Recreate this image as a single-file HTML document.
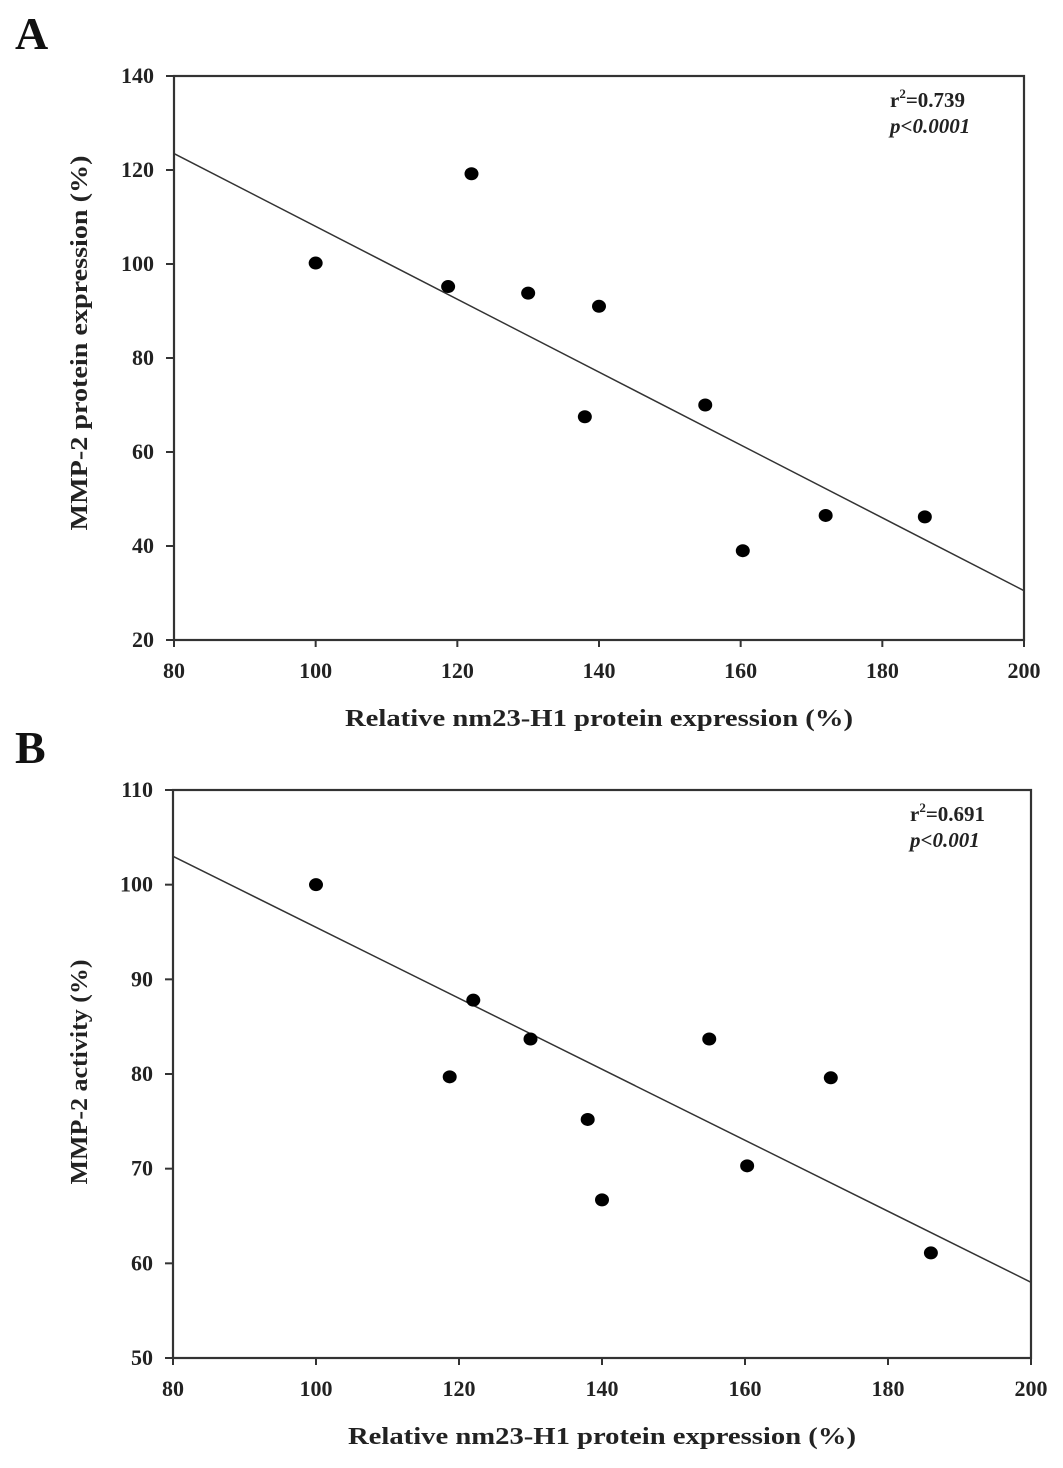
<!DOCTYPE html>
<html><head><meta charset="utf-8"><style>
body{margin:0;background:#fff;}
svg{display:block;font-family:"Liberation Serif",serif;}
</style></head><body>
<svg id="chart" width="1063" height="1468" viewBox="0 0 1063 1468"></svg>
<script>
// Panel A data
const xA = [100, 118.7, 122, 130, 138, 140, 155, 160.3, 172, 186];
const yA = [100.2, 95.2, 119.2, 93.8, 67.5, 91, 70, 39, 46.5, 46.2];
const fitA = [123.5, 30.5]; // y at x=80 and x=200
const yTicksA = [20, 40, 60, 80, 100, 120, 140];
// Panel B data
const xB = [100, 118.7, 122, 130, 138, 140, 155, 160.3, 172, 186];
const yB = [100, 79.7, 87.8, 83.7, 75.2, 66.7, 83.7, 70.3, 79.6, 61.1];
const fitB = [103, 58];
const yTicksB = [50, 60, 70, 80, 90, 100, 110];
const xTicks = [80, 100, 120, 140, 160, 180, 200];

const svg = document.getElementById('chart');
const NS = 'http://www.w3.org/2000/svg';
function mk(tag, attrs, parent){const e=document.createElementNS(NS,tag);for(const k in attrs)e.setAttribute(k,attrs[k]);(parent||svg).appendChild(e);return e;}

function panel(p){
  const g = mk('g',{});
  
  
  const sx = v => p.L + (v - 80) / 120 * (p.R - p.L);
  const sy = v => p.B - (v - p.ymin) / (p.ymax - p.ymin) * (p.B - p.T);
  const frame = mk('rect',{x:p.L,y:p.T,width:p.R-p.L,height:p.B-p.T,fill:'none',stroke:'#333','stroke-width':2.2},g);
  
  
  p.yTicks.forEach(v=>{
    mk('line',{x1:p.L-8,x2:p.L,y1:sy(v),y2:sy(v),stroke:'#333','stroke-width':2},g);
    const t = mk('text',{x:p.L-20,y:sy(v)+7,'text-anchor':'end','font-size':22,'font-weight':'bold',fill:'#222'},g);
    t.textContent = v;
    
    
  });
  xTicks.forEach(v=>{
    mk('line',{x1:sx(v),x2:sx(v),y1:p.B,y2:p.B+7,stroke:'#333','stroke-width':2},g);
    const t = mk('text',{x:sx(v),y:p.B+38,'text-anchor':'middle','font-size':22,'font-weight':'bold',fill:'#222'},g);
    t.textContent = v;
    
    
  });
  const ln = mk('line',{x1:sx(80),y1:sy(p.fit[0]),x2:sx(200),y2:sy(p.fit[1]),stroke:'#333','stroke-width':1.5},g);
  
  
  p.xs.forEach((x,i)=>{
    const c = mk('ellipse',{cx:sx(x),cy:sy(p.ys[i]),rx:7,ry:6.5,fill:'#000'},g);
    
    
  });
  const r = mk('text',{x:p.statX,y:p.T+31,'font-size':21,'font-weight':'bold',fill:'#222'},g);
  r.innerHTML = 'r<tspan dy="-9" font-size="13">2</tspan><tspan dy="9">='+p.r2+'</tspan>';
  
  
  const pv = mk('text',{x:p.statX,y:p.T+57,'font-size':21,'font-weight':'bold','font-style':'italic',fill:'#222'},g);
  pv.textContent = p.pval;
  
  
  const xt = mk('text',{x:p.xtX,y:p.B+86,'text-anchor':'middle','font-size':24,'font-weight':'bold',fill:'#222',textLength:508,lengthAdjust:'spacingAndGlyphs'},g);
  xt.textContent = 'Relative nm23-H1 protein expression (%)';
  
  
  const cy=p.ytY;
  const yt = mk('text',{x:87,y:cy,'text-anchor':'middle','font-size':24,'font-weight':'bold',fill:'#222',transform:'rotate(-90 87 '+cy+')',textLength:p.ytLen,lengthAdjust:'spacingAndGlyphs'},g);
  yt.textContent = p.ytitle;
  
  
  const lab = mk('text',{x:15,y:p.labY,'font-size':46,'font-weight':'bold',fill:'#111'},g);
  lab.textContent = p.id;
  
  
}
panel({id:'A',L:174,R:1024,T:76,B:640,ymin:20,ymax:140,yTicks:yTicksA,xs:xA,ys:yA,fit:fitA,r2:'0.739',pval:'p<0.0001',statX:890,ytitle:'MMP-2 protein expression (%)',ytY:343,ytLen:375,xtX:599,labY:49});
panel({id:'B',L:173,R:1031,T:790,B:1358,ymin:50,ymax:110,yTicks:yTicksB,xs:xB,ys:yB,fit:fitB,r2:'0.691',pval:'p<0.001',statX:910,ytitle:'MMP-2 activity (%)',ytY:1072,ytLen:225,xtX:602,labY:763});
</script>
</body></html>
